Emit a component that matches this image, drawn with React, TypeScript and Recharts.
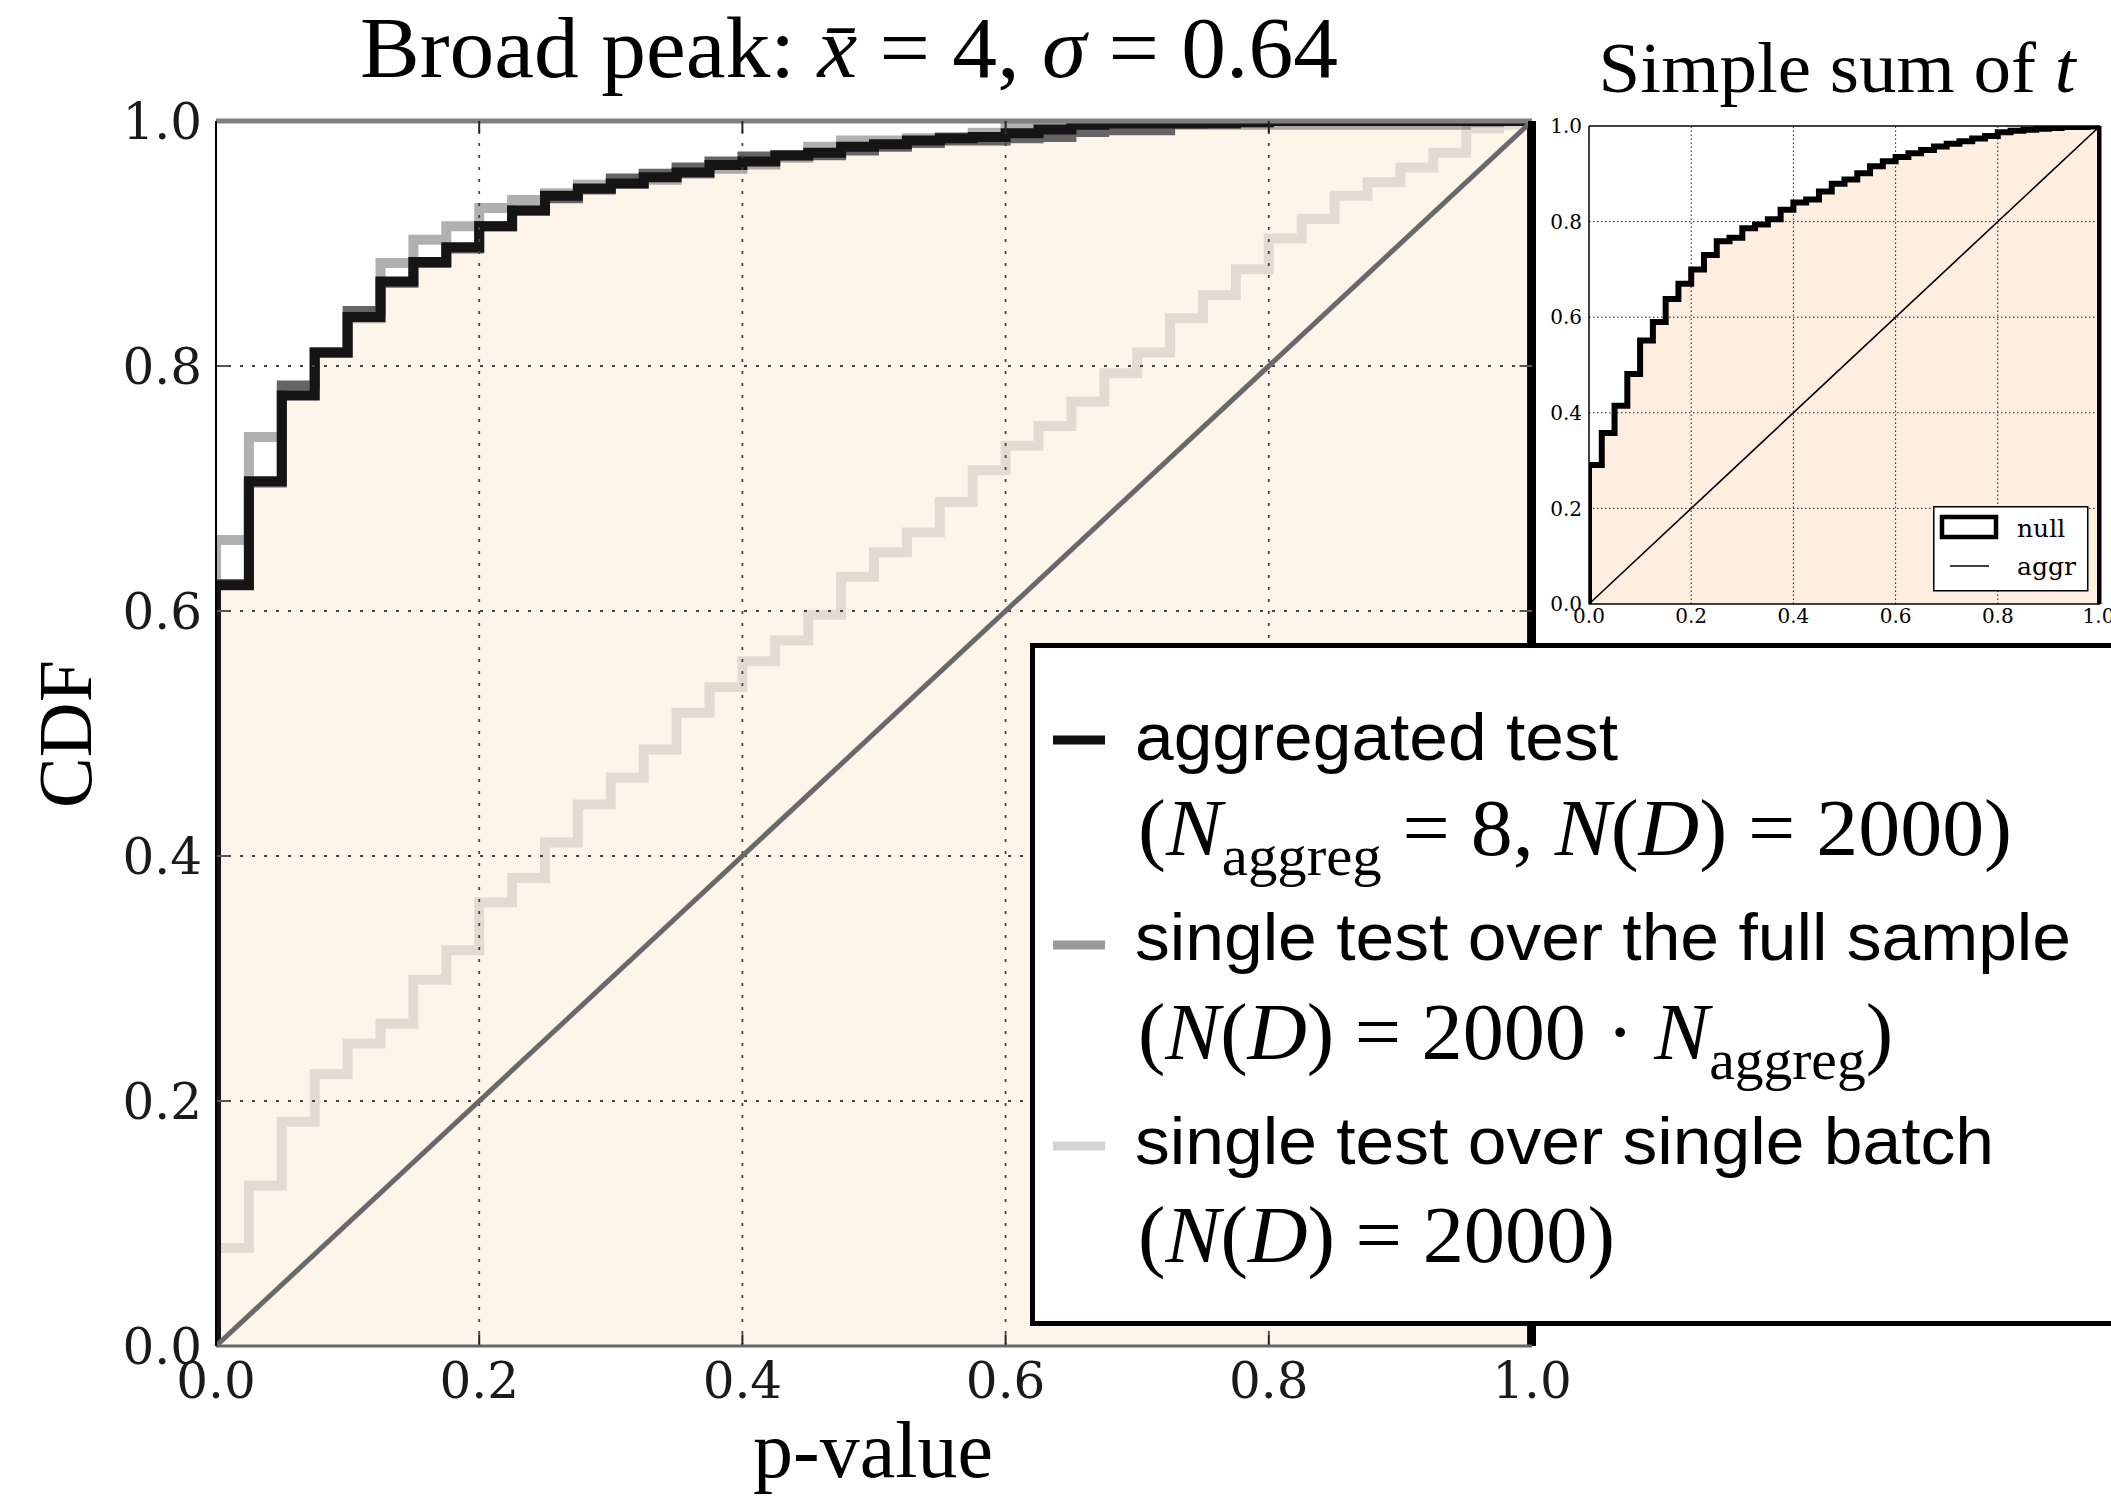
import React from 'react';
import { ComposedChart, Line, Area, XAxis, YAxis, ReferenceLine, Legend, Label } from 'recharts';

// bin left edges (p-value)
const pEdges = [0, 0.025, 0.05, 0.075, 0.1, 0.125, 0.15, 0.175, 0.2, 0.225, 0.25, 0.275, 0.3, 0.325, 0.35, 0.375, 0.4, 0.425, 0.45, 0.475, 0.5, 0.525, 0.55, 0.575, 0.6, 0.625, 0.65, 0.675, 0.7, 0.725, 0.75, 0.775, 0.8, 0.825, 0.85, 0.875, 0.9, 0.925, 0.95, 0.975];

// aggregated test (black)
const aggregated = [0.621, 0.706, 0.776, 0.811, 0.840, 0.869, 0.885, 0.897, 0.914, 0.927, 0.939, 0.945, 0.949, 0.954, 0.958, 0.964, 0.967, 0.972, 0.974, 0.979, 0.981, 0.984, 0.986, 0.987, 0.990, 0.993, 0.997, 0.998, 0.998, 0.998, 0.998, 0.999, 1.0, 1.0, 1.0, 1.0, 1.0, 1.0, 1.0, 1.0];
// dark grey companion curve
const aggregatedDark = [0.622, 0.705, 0.784, 0.811, 0.845, 0.868, 0.884, 0.896, 0.914, 0.927, 0.937, 0.944, 0.953, 0.957, 0.962, 0.967, 0.971, 0.9715, 0.972, 0.976, 0.979, 0.982, 0.984, 0.984, 0.986, 0.987, 0.991, 0.9925, 0.9925, 0.998, 0.999, 0.999, 1.0, 1.0, 1.0, 1.0, 1.0, 1.0, 1.0, 1.0];
// single test over the full sample (grey)
const fullSample = [0.658, 0.742, 0.777, 0.811, 0.839, 0.884, 0.903, 0.914, 0.929, 0.9355, 0.941, 0.948, 0.9485, 0.952, 0.957, 0.961, 0.9645, 0.970, 0.979, 0.984, 0.984, 0.986, 0.987, 0.9905, 0.9945, 0.995, 0.996, 0.997, 0.997, 0.997, 0.997, 0.997, 0.997, 0.997, 0.997, 0.997, 0.997, 0.997, 0.999, 1.0];
// single test over single batch (light grey)
const singleBatch = [0.080, 0.131, 0.183, 0.222, 0.247, 0.263, 0.299, 0.323, 0.362, 0.382, 0.411, 0.442, 0.464, 0.487, 0.517, 0.538, 0.559, 0.576, 0.597, 0.628, 0.648, 0.664, 0.689, 0.715, 0.735, 0.751, 0.771, 0.794, 0.811, 0.839, 0.858, 0.879, 0.904, 0.920, 0.939, 0.950, 0.962, 0.974, 0.994, 0.997];
// inset: simple sum of t, null distribution
const insetNull = [0.291, 0.358, 0.415, 0.481, 0.551, 0.590, 0.638, 0.670, 0.700, 0.730, 0.759, 0.766, 0.786, 0.794, 0.805, 0.825, 0.840, 0.846, 0.863, 0.879, 0.888, 0.901, 0.916, 0.926, 0.935, 0.943, 0.950, 0.957, 0.963, 0.968, 0.974, 0.979, 0.987, 0.990, 0.992, 0.994, 0.996, 0.998, 0.998, 0.999];

const axisTicks = [0, 0.2, 0.4, 0.6, 0.8, 1.0];
const gridTicks = [0.2, 0.4, 0.6, 0.8];

function buildRows(series: Record<string, number[]>) {
  const keys = Object.keys(series);
  const zero: Record<string, number> = {};
  const last: Record<string, number> = {};
  keys.forEach((k) => { zero[k] = 0; last[k] = series[k][series[k].length - 1]; });
  const rows: any[] = [{ x: 0, ...zero }];
  pEdges.forEach((x, i) => {
    const r: any = { x };
    keys.forEach((k) => { r[k] = series[k][i]; });
    rows.push(r);
  });
  rows.push({ x: 1, ...last });
  rows.push({ x: 1, ...zero });
  return rows;
}

const mainRows = buildRows({ k: aggregated, g: aggregatedDark, l: fullSample, d: singleBatch });
const insetRows = buildRows({ n: insetNull });

const fmt = (v: number) => v.toFixed(1);

const MainLegend = () => (
  <svg width={1081} height={683} style={{ display: 'block' }}>
    <rect x={2.5} y={2.5} width={1200} height={678} fill="#fff" stroke="#000" strokeWidth={5} />
    <line x1={23} x2={75} y1={97} y2={97} stroke="#111" strokeWidth={9} />
    <text x={105} y={116.5} fontFamily="Liberation Sans" fontSize={66} textLength={483} lengthAdjust="spacingAndGlyphs">aggregated test</text>
    <text x={108} y={212} fontFamily="Liberation Serif" fontSize={80} textLength={874} lengthAdjust="spacingAndGlyphs">
      (<tspan fontStyle="italic">N</tspan><tspan fontSize={56} dy={20}>aggreg</tspan><tspan dy={-20}> = 8, </tspan><tspan fontStyle="italic">N</tspan>(<tspan fontStyle="italic">D</tspan>) = 2000)
    </text>
    <line x1={23} x2={75} y1={302} y2={302} stroke="#999" strokeWidth={9} />
    <text x={105} y={317} fontFamily="Liberation Sans" fontSize={66} textLength={936} lengthAdjust="spacingAndGlyphs">single test over the full sample</text>
    <text x={108} y={415.6} fontFamily="Liberation Serif" fontSize={80} textLength={755} lengthAdjust="spacingAndGlyphs">
      (<tspan fontStyle="italic">N</tspan>(<tspan fontStyle="italic">D</tspan>) = 2000 · <tspan fontStyle="italic">N</tspan><tspan fontSize={56} dy={20}>aggreg</tspan><tspan dy={-20}>)</tspan>
    </text>
    <line x1={23} x2={75} y1={503} y2={503} stroke="#d3d3d3" strokeWidth={9} />
    <text x={105} y={520.5} fontFamily="Liberation Sans" fontSize={66} textLength={859} lengthAdjust="spacingAndGlyphs">single test over single batch</text>
    <text x={108} y={618.7} fontFamily="Liberation Serif" fontSize={80} textLength={477} lengthAdjust="spacingAndGlyphs">
      (<tspan fontStyle="italic">N</tspan>(<tspan fontStyle="italic">D</tspan>) = 2000)
    </text>
  </svg>
);

const InsetLegend = () => (
  <svg width={160} height={90} style={{ display: 'block' }}>
    <rect x={0.75} y={0.75} width={154} height={84} fill="#fff" stroke="#000" strokeWidth={1.5} />
    <rect x={9} y={11} width={54} height={20} fill="#fff" stroke="#000" strokeWidth={4.5} />
    <text x={84} y={31} fontFamily="DejaVu Serif" fontSize={25}>null</text>
    <line x1={17} x2={56} y1={60} y2={60} stroke="#000" strokeWidth={1.5} />
    <text x={84} y={69} fontFamily="DejaVu Serif" fontSize={25}>aggr</text>
  </svg>
);

export default function App() {
  const tickLen = 0.0095;
  return (
    <div style={{ position: 'absolute', left: 0, top: 0, width: 2111, height: 1497, background: '#fff', overflow: 'hidden' }}>
      {/* inset chart */}
      <div style={{ position: 'absolute', left: 1500, top: 0 }}>
        <ComposedChart width={611} height={700} data={insetRows} margin={{ top: 126, right: 11, bottom: 0, left: 0 }}>
          <XAxis dataKey="x" type="number" domain={[0, 1]} ticks={axisTicks} allowDataOverflow height={96}
            tickFormatter={fmt} tickLine={false} tickSize={0} tickMargin={5}
            tick={{ fontFamily: 'DejaVu Serif', fontSize: 20, fill: '#000' }}
            axisLine={{ stroke: '#000', strokeWidth: 1.5 }} />
          <YAxis type="number" domain={[0, 1]} ticks={axisTicks} allowDataOverflow width={89}
            tickFormatter={fmt} tickLine={false} tickSize={0} tickMargin={7}
            tick={{ fontFamily: 'DejaVu Serif', fontSize: 20, fill: '#000' }}
            axisLine={{ stroke: '#000', strokeWidth: 1.5 }} />
          <Area dataKey="n" type="stepAfter" fill="#fdeee0" fillOpacity={1} stroke="none" isAnimationActive={false} />
          {gridTicks.map((v) => (
            <ReferenceLine key={'ix' + v} x={v} stroke="#222" strokeWidth={1} strokeDasharray="1.5 2.5" />
          ))}
          {gridTicks.map((v) => (
            <ReferenceLine key={'iy' + v} y={v} stroke="#222" strokeWidth={1} strokeDasharray="1.5 2.5" />
          ))}
          <Line dataKey="n" type="stepAfter" stroke="#000" strokeWidth={6} dot={false} activeDot={false} isAnimationActive={false} />
          <ReferenceLine segment={[{ x: 0, y: 0 }, { x: 1, y: 1 }]} stroke="#000" strokeWidth={1.6} />
          <ReferenceLine y={1} stroke="#000" strokeWidth={1.5} />
          <ReferenceLine x={1} stroke="#000" strokeWidth={3} />
          <text x={98.6} y={91.7} fontFamily="Liberation Serif" fontSize={72} textLength={477} lengthAdjust="spacingAndGlyphs">
            Simple sum of <tspan fontStyle="italic">t</tspan>
          </text>
          <Legend layout="horizontal" verticalAlign="middle" align="center"
            wrapperStyle={{ left: 433, top: 506, width: 160, height: 90 }}
            content={() => <InsetLegend />} />
        </ComposedChart>
      </div>

      {/* main chart */}
      <div style={{ position: 'absolute', left: 0, top: 0 }}>
        <ComposedChart width={1600} height={1497} data={mainRows} margin={{ top: 121, right: 68, bottom: 0, left: 0 }}>
          <XAxis dataKey="x" type="number" domain={[0, 1]} ticks={axisTicks} allowDataOverflow height={151}
            tickFormatter={fmt} tickLine={false} tickSize={0} tickMargin={16}
            tick={{ fontFamily: 'DejaVu Serif', fontSize: 50, fill: '#1a1a1a' }}
            axisLine={{ stroke: '#666', strokeWidth: 3 }}>
            <Label content={() => (
              <text x={873} y={1477} textAnchor="middle" fontFamily="Liberation Serif" fontSize={80} fill="#000">p-value</text>
            )} />
          </XAxis>
          <YAxis type="number" domain={[0, 1]} ticks={axisTicks} allowDataOverflow width={216}
            tickFormatter={fmt} tickLine={false} tickSize={0} tickMargin={14}
            tick={{ fontFamily: 'DejaVu Serif', fontSize: 50, fill: '#1a1a1a' }}
            axisLine={{ stroke: '#000', strokeWidth: 2 }}>
            <Label content={() => (
              <text x={65} y={734} textAnchor="middle" dominantBaseline="central" transform="rotate(-90 65 734)"
                fontFamily="Liberation Serif" fontSize={76} fill="#000">CDF</text>
            )} />
          </YAxis>
          <Area dataKey="k" type="stepAfter" fill="#fdf4ea" fillOpacity={1} stroke="none" isAnimationActive={false} />
          <Line dataKey="d" type="stepAfter" stroke="#000" strokeOpacity={0.1} strokeWidth={10} dot={false} activeDot={false} isAnimationActive={false} />
          <Line dataKey="l" type="stepAfter" stroke="#000" strokeOpacity={0.31} strokeWidth={10} dot={false} activeDot={false} isAnimationActive={false} />
          <Line dataKey="g" type="stepAfter" stroke="#656565" strokeWidth={10} dot={false} activeDot={false} isAnimationActive={false} />
          <Line dataKey="k" type="stepAfter" stroke="#151515" strokeWidth={10} dot={false} activeDot={false} isAnimationActive={false} />
          {gridTicks.map((v) => (
            <ReferenceLine key={'gx' + v} x={v} stroke="#444" strokeWidth={1.8} strokeDasharray="3 9" />
          ))}
          {gridTicks.map((v) => (
            <ReferenceLine key={'gy' + v} y={v} stroke="#444" strokeWidth={1.8} strokeDasharray="3 9" />
          ))}
          <ReferenceLine segment={[{ x: 0, y: 0 }, { x: 1, y: 1 }]} stroke="#696969" strokeWidth={5} />
          <ReferenceLine y={1} stroke="#808080" strokeWidth={5} />
          <ReferenceLine x={1} stroke="#000" strokeWidth={8} />
          {gridTicks.map((v) => (
            <ReferenceLine key={'tt' + v} segment={[{ x: v, y: 1 }, { x: v, y: 1 - tickLen }]} stroke="#222" strokeWidth={2} />
          ))}
          {gridTicks.map((v) => (
            <ReferenceLine key={'tb' + v} segment={[{ x: v, y: 0 }, { x: v, y: tickLen }]} stroke="#222" strokeWidth={2} />
          ))}
          {gridTicks.map((v) => (
            <ReferenceLine key={'tl' + v} segment={[{ x: 0, y: v }, { x: tickLen, y: v }]} stroke="#555" strokeWidth={2} />
          ))}
          {gridTicks.map((v) => (
            <ReferenceLine key={'tr' + v} segment={[{ x: 1, y: v }, { x: 1 - tickLen, y: v }]} stroke="#555" strokeWidth={2} />
          ))}
          <text x={360} y={77} fontFamily="Liberation Serif" fontSize={86} fill="#000" textLength={978} lengthAdjust="spacingAndGlyphs">
            Broad peak: <tspan fontStyle="italic">x̄</tspan> = 4, <tspan fontStyle="italic">σ</tspan> = 0.64
          </text>
          <Legend layout="horizontal" verticalAlign="middle" align="center"
            wrapperStyle={{ left: 1030, top: 643, width: 1081, height: 683, zIndex: 5 }}
            content={() => <MainLegend />} />
        </ComposedChart>
      </div>
    </div>
  );
}
